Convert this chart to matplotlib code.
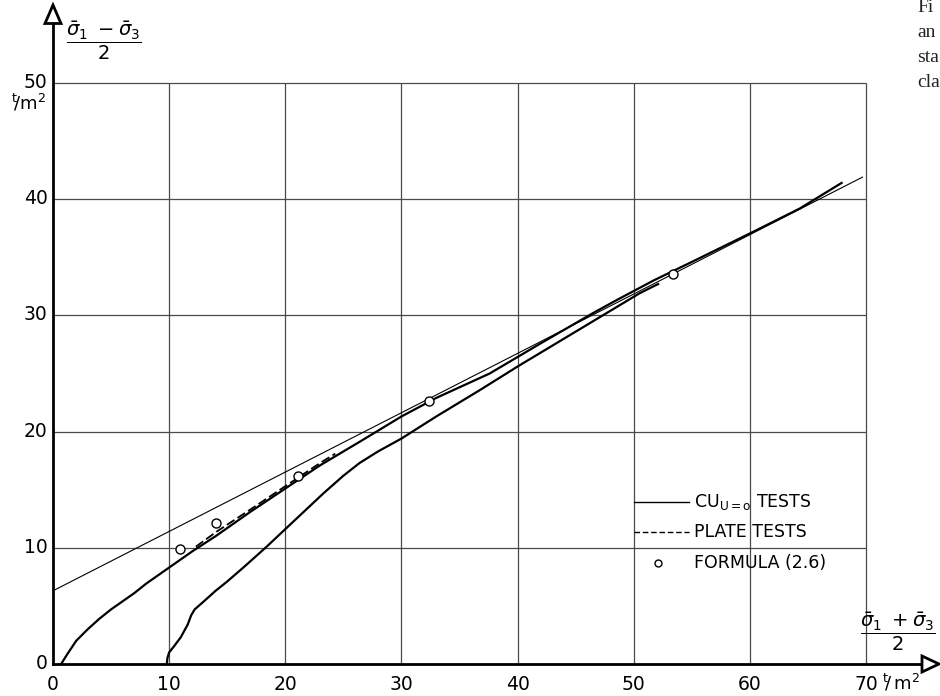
import numpy as np
import matplotlib
matplotlib.use("Agg")
import matplotlib.pyplot as plt
from matplotlib.patches import Polygon

plt.rcParams['font.family'] = ['DejaVu Sans']
plt.rcParams['mathtext.fontset'] = 'dejavusans'

# thin straight reference line
thin_x = [0.0, 69.7]
thin_y = [6.3, 41.9]

# CU u=o tests, curve starting near origin
cu1_x = [0.7, 1.2, 2.0, 3.0, 4.0, 5.0, 6.0, 7.0, 8.0, 9.0, 10.0, 11.0, 12.0, 14.0,
         17.0, 20.0, 23.0, 26.7, 30.0, 33.0, 37.6, 42.0, 46.5, 48.5, 51.7, 55.0,
         60.3, 64.3, 67.9]
cu1_y = [0.0, 0.8, 2.0, 3.0, 3.9, 4.7, 5.4, 6.1, 6.9, 7.6, 8.3, 9.0, 9.7, 11.0,
         13.1, 15.1, 17.1, 19.3, 21.3, 22.9, 25.0, 27.6, 30.2, 31.3, 33.0, 34.6,
         37.2, 39.2, 41.4]

# CU u=o tests, curve starting at 10
cu2_x = [9.8, 9.85, 10.0, 10.4, 11.0, 11.6, 11.9, 12.2, 13.0, 14.0, 15.0, 16.5,
         18.4, 20.1, 21.7, 23.3, 25.0, 26.4, 28.0, 30.0, 33.0, 36.8, 40.0, 44.0,
         48.0, 50.5, 52.1]
cu2_y = [0.0, 0.5, 1.0, 1.5, 2.3, 3.4, 4.2, 4.7, 5.4, 6.3, 7.1, 8.4,
         10.1, 11.7, 13.2, 14.7, 16.2, 17.3, 18.3, 19.4, 21.3, 23.6, 25.6, 28.0,
         30.4, 31.9, 32.7]

# plate tests
plate_x = [12.3, 14.1, 17.0, 20.0, 23.0, 24.3]
plate_y = [10.1, 11.4, 13.3, 15.3, 17.3, 18.1]

# formula (2.6)
form_x = [10.9, 14.0, 21.1, 32.4, 53.4]
form_y = [9.9, 12.1, 16.2, 22.6, 33.6]

x_ticks = [0, 10, 20, 30, 40, 50, 60, 70]
y_ticks = [0, 10, 20, 30, 40, 50]

W, H = 940, 696
px_x0, px_y0 = 53, 664
sx, sy = 11.614, 11.62

fig = plt.figure(figsize=(W / 100, H / 100), dpi=100)
ax = fig.add_axes([0, 0, 1, 1])
ax.set_xlim(-px_x0 / sx, (W - px_x0) / sx)
ax.set_ylim(-(H - px_y0) / sy, px_y0 / sy)
ax.axis('off')

# grid
gc = '#4a4a4a'
ax.vlines(x_ticks[1:], 0, 50, color=gc, lw=0.9)
ax.hlines(y_ticks[1:], 0, 70, color=gc, lw=0.9)

# axes with open arrow heads
xmax = (W - px_x0) / sx
ymax = px_y0 / sy
hw = 8 / sx
ax.plot([0, 0], [0, ymax - 20 / sy - 0.3], color='k', lw=2.0)
ax.plot([0, xmax - 18 / sx], [0, 0], color='k', lw=2.0)
ax.add_patch(Polygon([[-hw, ymax - 20 / sy - 0.3], [hw, ymax - 20 / sy - 0.3], [0, ymax - 5 / sy]],
                     closed=True, fc='white', ec='k', lw=2.0, zorder=5))
ax.add_patch(Polygon([[xmax - 18 / sx, -hw], [xmax - 18 / sx, hw], [xmax - 1 / sx, 0]],
                     closed=True, fc='white', ec='k', lw=2.0, zorder=5))

# curves
ax.plot(thin_x, thin_y, color='k', lw=0.8)
ax.plot(cu1_x, cu1_y, color='k', lw=1.6)
ax.plot(cu2_x, cu2_y, color='k', lw=1.6)
ax.plot(plate_x, plate_y, color='k', lw=1.3, dashes=(5, 2))
ax.plot(form_x, form_y, 'o', mfc='white', mec='k', ms=6.5, mew=1.0, zorder=6)

# legend drawn by hand
ax.plot([50, 54.8], [13.9, 13.9], color='k', lw=1.0)
ax.plot([50, 54.8], [11.4, 11.4], color='k', lw=1.0, dashes=(4, 2))
ax.plot([52.1], [8.7], 'o', mfc='white', mec='k', ms=5, mew=1.0)
ax.text(55.2, 13.9, r'CU$_{\mathregular{U=o}}$ TESTS', fontsize=12.5, va='center')
ax.text(55.2, 11.4, 'PLATE TESTS', fontsize=12.5, va='center')
ax.text(55.2, 8.7, 'FORMULA (2.6)', fontsize=12.5, va='center')

# tick labels
for v in y_ticks:
    ax.text(-0.45, v + 0.05, str(v), fontsize=13.5, ha='right', va='center')
for v in x_ticks:
    ax.text(v, -1.8, str(v), fontsize=13.5, ha='center', va='center')

ax.text(-0.6, 48.3, r'$^{\mathregular{t}}\!/\mathregular{m}^2$', fontsize=13, ha='right', va='center')
ax.text(71.4, -1.65, r'$^{\mathregular{t}}\!/\,\mathregular{m}^2$', fontsize=13, ha='left', va='center')

# axis labels
ax.text(4.35, 53.6, r'$\dfrac{\bar{\sigma}_1\ -\bar{\sigma}_3}{2}$', fontsize=14, ha='center', va='center')
ax.text(72.75, 2.75, r'$\dfrac{\bar{\sigma}_1\ +\bar{\sigma}_3}{2}$', fontsize=14, ha='center', va='center')

# cropped page text at right edge
for s, yb in zip(['Fi', 'an', 'sta', 'cla'], [12, 37, 62, 87]):
    fig.text(917 / W, 1 - yb / H, s, fontsize=14, family='Liberation Serif',
             ha='left', va='baseline', color='#222222')

fig.savefig('out.png', dpi=100)
